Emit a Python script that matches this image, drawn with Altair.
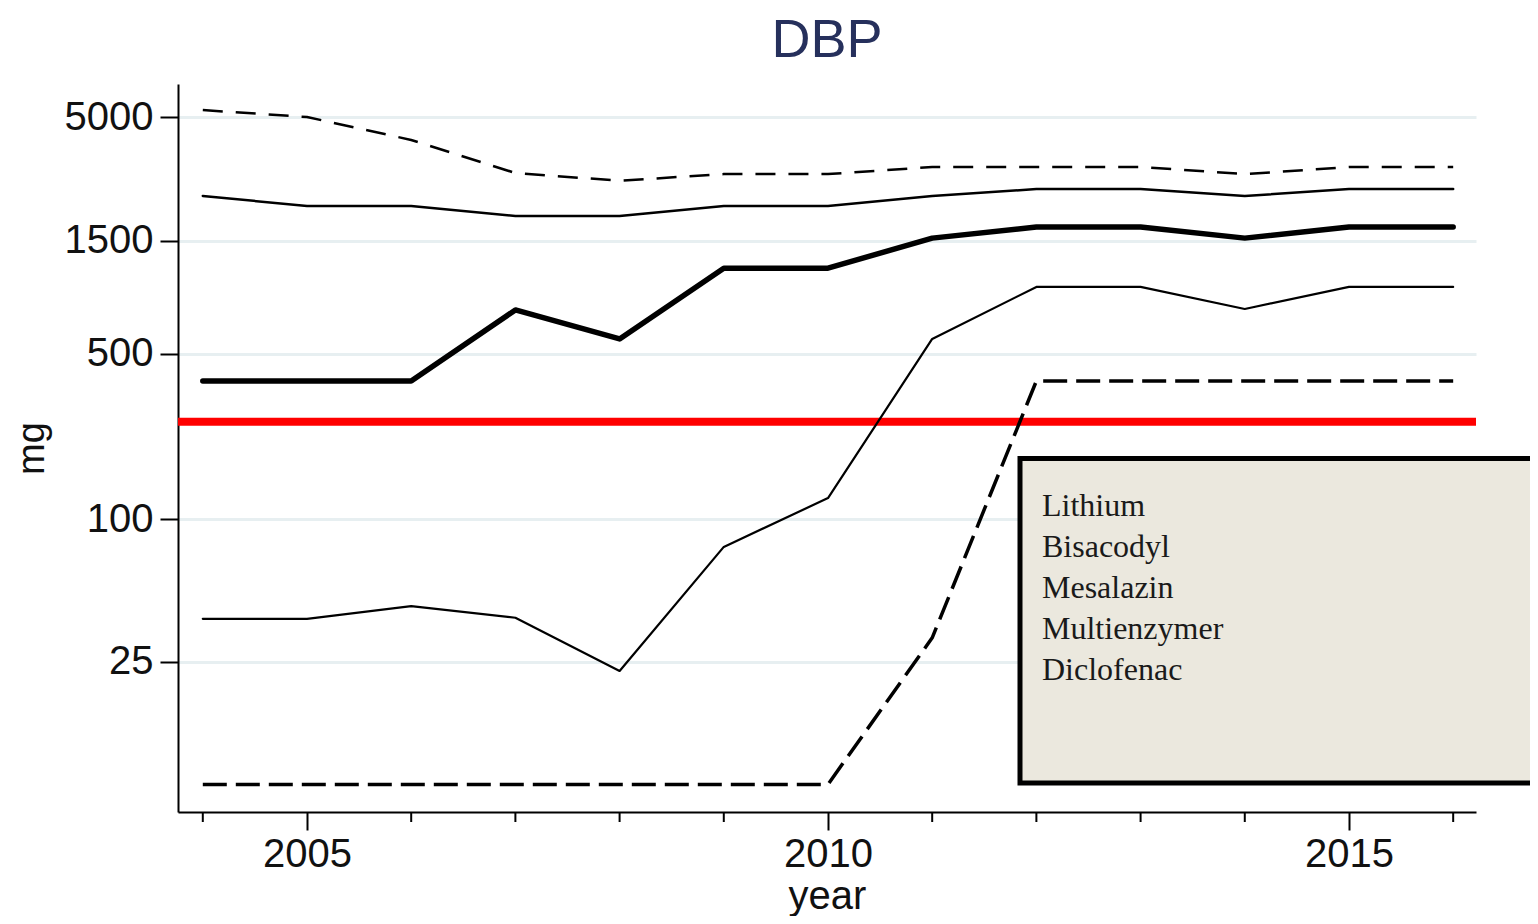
import altair as alt
import pandas as pd

# ---- data ----
years = [2004, 2005, 2006, 2007, 2008, 2009, 2010, 2011, 2012, 2013, 2014, 2015, 2016]
multienzymer = [5350, 5000, 4000, 2900, 2690, 2870, 2870, 3075, 3075, 3075, 2870, 3075, 3075]
mesalazin = [2320, 2105, 2105, 1910, 1910, 2105, 2105, 2320, 2480, 2480, 2320, 2480, 2480]
lithium = [384, 384, 384, 766, 578, 1150, 1150, 1540, 1715, 1715, 1540, 1715, 1715]
diclofenac = [38, 38, 43, 38.4, 22.9, 76.5, 123, 578, 958, 958, 773, 958, 958]
bisacodyl = [7.6, 7.6, 7.6, 7.6, 7.6, 7.6, 7.6, 31.6, 384, 384, 384, 384, 384]
threshold = [258]
legend_labels = ["Lithium", "Bisacodyl", "Mesalazin", "Multienzymer", "Diclofenac"]
chart_title = "DBP"
y_ticks = [25, 100, 500, 1500, 5000]
x_major = [2005, 2010, 2015]
x_minor = [2004, 2006, 2007, 2008, 2009, 2011, 2012, 2013, 2014, 2016]

series = {
    "Multienzymer": multienzymer,
    "Mesalazin": mesalazin,
    "Lithium": lithium,
    "Diclofenac": diclofenac,
    "Bisacodyl": bisacodyl,
}
rows = []
for name, vals in series.items():
    for yr, v in zip(years, vals):
        rows.append({"series": name, "year": yr, "mg": v})
df = pd.DataFrame(rows)

FONT = "Liberation Sans"
xscale = alt.Scale(domain=[2003.762, 2016.219], nice=False, zero=False)
yscale = alt.Scale(type="log", domain=[5.81, 6892], nice=False, zero=False)

xaxis = alt.Axis(values=x_major, format="d", title="year", grid=False,
                 tickSize=18, tickWidth=2, tickColor="black",
                 domainColor="black", domainWidth=2,
                 labelFont=FONT, labelFontSize=40, labelColor="#111111", labelPadding=4,
                 labelFlush=False, labelOverlap=False,
                 titleFont=FONT, titleFontSize=40, titleFontWeight="normal", titleColor="#111111",
                 titleY=96, titleBaseline="alphabetic")
yaxis = alt.Axis(values=y_ticks, format="d", title="mg", grid=True,
                 gridColor="#e7eff1", gridWidth=3,
                 tickSize=18, tickWidth=2, tickColor="black",
                 domainColor="black", domainWidth=2,
                 labelFont=FONT, labelFontSize=40, labelColor="#111111", labelPadding=7,
                 labelFlush=False, labelOverlap=False,
                 titleFont=FONT, titleFontSize=38, titleFontWeight="normal", titleColor="#111111",
                 titleAngle=270, titleX=-135, titleY=364, titleBaseline="alphabetic", titleAlign="center")

X = alt.X("year:Q", scale=xscale, axis=xaxis)
Y = alt.Y("mg:Q", scale=yscale, axis=yaxis)


def line_layer(name, width, dash=None):
    kw = dict(color="black", strokeWidth=width, strokeJoin="round")
    if dash is not None:
        kw["strokeDash"] = dash
        kw["strokeCap"] = "butt"
    else:
        kw["strokeCap"] = "round"
    return alt.Chart(df).transform_filter(alt.datum.series == name).mark_line(**kw).encode(x=X, y=Y)


red = alt.Chart(pd.DataFrame({"mg": threshold})).mark_rule(color="#ff0000", strokeWidth=8).encode(y=Y)

minor = alt.Chart(pd.DataFrame({"year": x_minor})).mark_rule(color="black", strokeWidth=2).encode(
    x=X, y=alt.value(728), y2=alt.value(738))

dummy = pd.DataFrame({"a": [0]})
box = alt.Chart(dummy).mark_rect(fill="#ebe8de", stroke="black", strokeWidth=5).encode(
    x=alt.value(842), x2=alt.value(1420), y=alt.value(374.5), y2=alt.value(699))
legend_text = alt.Chart(dummy).mark_text(align="left", baseline="alphabetic", font="Liberation Serif",
                                         fontSize=32, lineHeight=41, color="#1a1a1a").encode(
    x=alt.value(864), y=alt.value(432), text=alt.value(legend_labels))
title_text = alt.Chart(dummy).mark_text(align="center", baseline="alphabetic", font=FONT,
                                        fontSize=54, color="#26305c").encode(
    x=alt.value(649), y=alt.value(-27), text=alt.value(chart_title))

chart = alt.layer(
    red,
    line_layer("Multienzymer", 2.5, [20, 13]),
    line_layer("Mesalazin", 2.5),
    line_layer("Lithium", 5.5),
    line_layer("Diclofenac", 2.2),
    line_layer("Bisacodyl", 3.5, [24, 9]),
    minor,
    box,
    legend_text,
    title_text,
).properties(
    width=1298, height=728,
    autosize=alt.AutoSizeParams(type="none"),
    padding={"left": 170, "top": 76, "right": 54, "bottom": 104},
    background="white",
).configure_view(stroke=None)

chart.save("out.html", embed_options={"renderer": "svg", "actions": False})
